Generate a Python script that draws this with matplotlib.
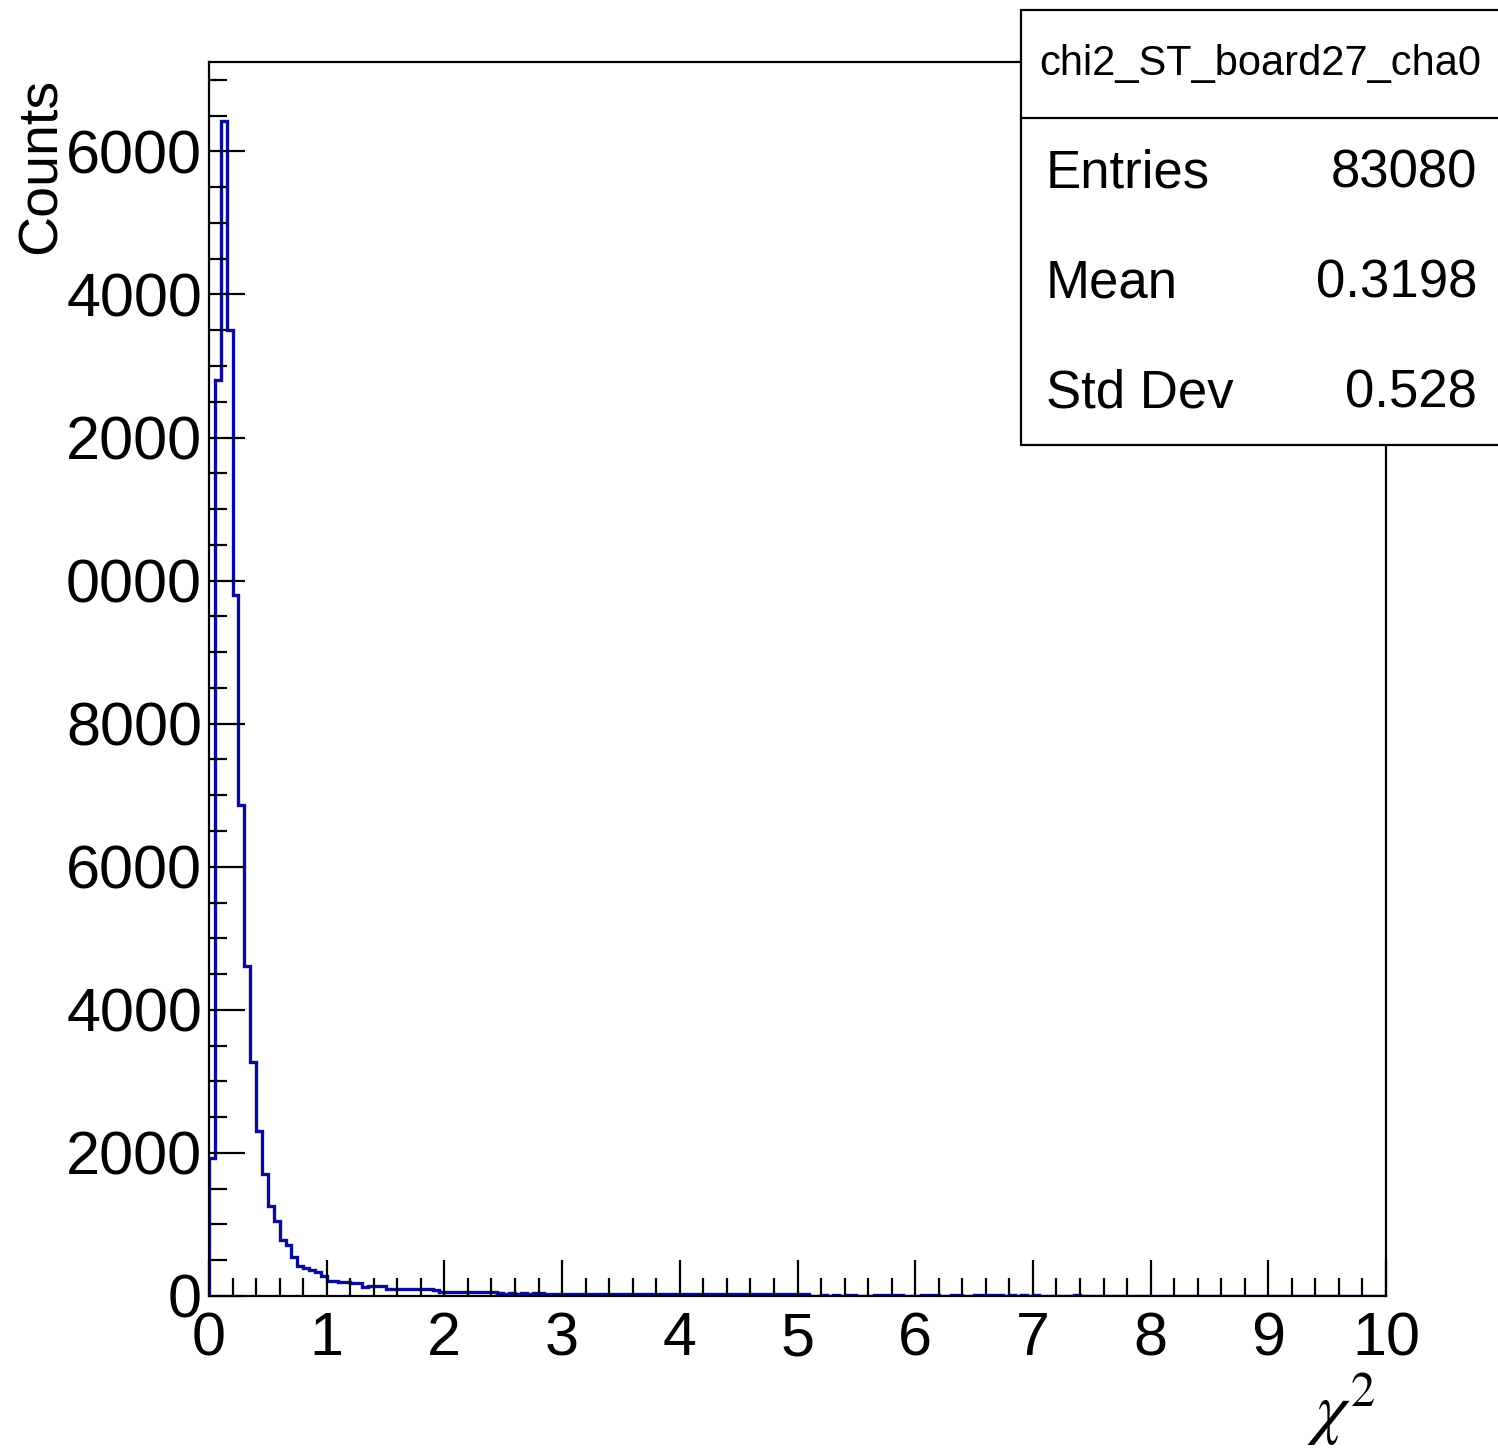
import matplotlib
matplotlib.use("Agg")
import matplotlib.pyplot as plt
from matplotlib.ticker import MultipleLocator, FuncFormatter
from matplotlib.patches import Rectangle
from matplotlib.lines import Line2D
import numpy as np

plt.rcParams['font.family'] = ['Liberation Sans', 'DejaVu Sans']
plt.rcParams['mathtext.fontset'] = 'stix'

# -------------------------------------------------------------------------------------------------
# histogram data: 200 bins of width 0.05 between 0 and 10
x_min, x_max, n_bins = 0.0, 10.0, 200
counts = [
    # 0.00 - 1.00
    1930, 12800, 16430, 13500, 9800, 6870, 4610, 3270, 2300, 1710,
    1260, 1050, 780, 710, 550, 420, 385, 370, 340, 280,
    # 1.00 - 2.00
    210, 205, 200, 190, 180, 175, 130, 140, 140, 135,
    100, 100, 98, 95, 100, 95, 92, 95, 90, 62,
    # 2.00 - 3.00
    60, 60, 58, 62, 60, 55, 58, 60, 56, 40,
    22, 38, 30, 45, 22, 40, 35, 25, 30, 28,
    # 3.00 - 4.00
    30, 26, 28, 30, 25, 27, 30, 28, 26, 28,
    25, 27, 30, 26, 28, 25, 27, 26, 28, 25,
    # 4.00 - 5.00
    27, 26, 25, 28, 26, 24, 27, 25, 26, 24,
    27, 25, 26, 24, 25, 26, 24, 25, 27, 24,
    # 5.00 - 6.00
    25, 23, 5, 3, 8, 5, 20, 4, 15, 12,
    4, 3, 5, 14, 12, 15, 10, 13, 3, 4,
    # 6.00 - 7.00
    2, 10, 12, 14, 4, 3, 8, 12, 4, 3,
    10, 8, 12, 10, 8, 4, 10, 6, 9, 4,
    # 7.00 - 8.00
    8, 5, 3, 6, 4, 2, 3, 10, 2, 3,
    2, 1, 0, 2, 1, 0, 1, 2, 0, 1,
    # 8.00 - 9.00
    0, 1, 0, 0, 1, 0, 2, 0, 0, 1,
    0, 0, 1, 0, 0, 0, 1, 0, 0, 0,
    # 9.00 - 10.00
    0, 1, 0, 0, 0, 0, 0, 1, 0, 0,
    0, 0, 0, 0, 1, 0, 0, 0, 0, 0,
]
y_max = 17250

hist_name = "chi2_ST_board27_cha0"
stat_names = ["Entries", "Mean", "Std Dev"]
stat_values = ["83080", "0.3198", "0.528"]

# -------------------------------------------------------------------------------------------------
W, H = 1498, 1453
fig = plt.figure(figsize=(W / 100, H / 100), dpi=100)
ax = fig.add_axes([209 / W, 1 - 1296 / H, (1386 - 209) / W, (1296 - 62) / H])

edges = np.linspace(x_min, x_max, n_bins + 1)
ax.stairs(counts, edges, color='#0a0a9c', linewidth=2.4, baseline=0)

ax.set_xlim(x_min, x_max)
ax.set_ylim(0, y_max)

for s in ax.spines.values():
    s.set_linewidth(1.6)

ax.xaxis.set_major_locator(MultipleLocator(1))
ax.xaxis.set_minor_locator(MultipleLocator(0.2))
ax.yaxis.set_major_locator(MultipleLocator(2000))
ax.yaxis.set_minor_locator(MultipleLocator(500))
# the leading digit of the big labels falls off the canvas in the original
ax.yaxis.set_major_formatter(FuncFormatter(lambda v, p: str(int(round(v)))[-4:]))

ax.tick_params(which='both', direction='in', width=1.6, labelsize=44, colors='black')
ax.tick_params(which='major', length=26)
ax.tick_params(which='minor', length=13)
ax.tick_params(axis='x', which='both', pad=11)
ax.tick_params(axis='y', which='both', pad=5)

fig.text(42 / W, 1 - 78 / H, "Counts", rotation=90, ha='center', va='top', fontsize=40)
fig.text(1376 / W, 1 - 1410 / H, r"$\chi^{2}$", ha='right', va='center', fontsize=50)

# -------------------------------------------------------------------------------------------------
# stats box (ROOT style), running past the right edge
box = Rectangle((1021 / W, 1 - 445 / H), 0.4, (445 - 10) / H, transform=fig.transFigure,
                facecolor='white', edgecolor='black', linewidth=1.6, zorder=5)
fig.add_artist(box)
fig.add_artist(Line2D([1021 / W, 1.0], [1 - 118 / H, 1 - 118 / H], transform=fig.transFigure,
                      color='black', linewidth=1.6, zorder=6))

fig.text(1260 / W, 1 - 64 / H, hist_name, ha='center', va='center', fontsize=30, zorder=7)
row_y = [173, 283, 393]
for name, val, yy in zip(stat_names, stat_values, row_y):
    fig.text(1046 / W, 1 - yy / H, name, ha='left', va='center', fontsize=38, zorder=7)
    fig.text(1477 / W, 1 - yy / H, val, ha='right', va='center', fontsize=38, zorder=7)

fig.savefig("out.png", dpi=100)
